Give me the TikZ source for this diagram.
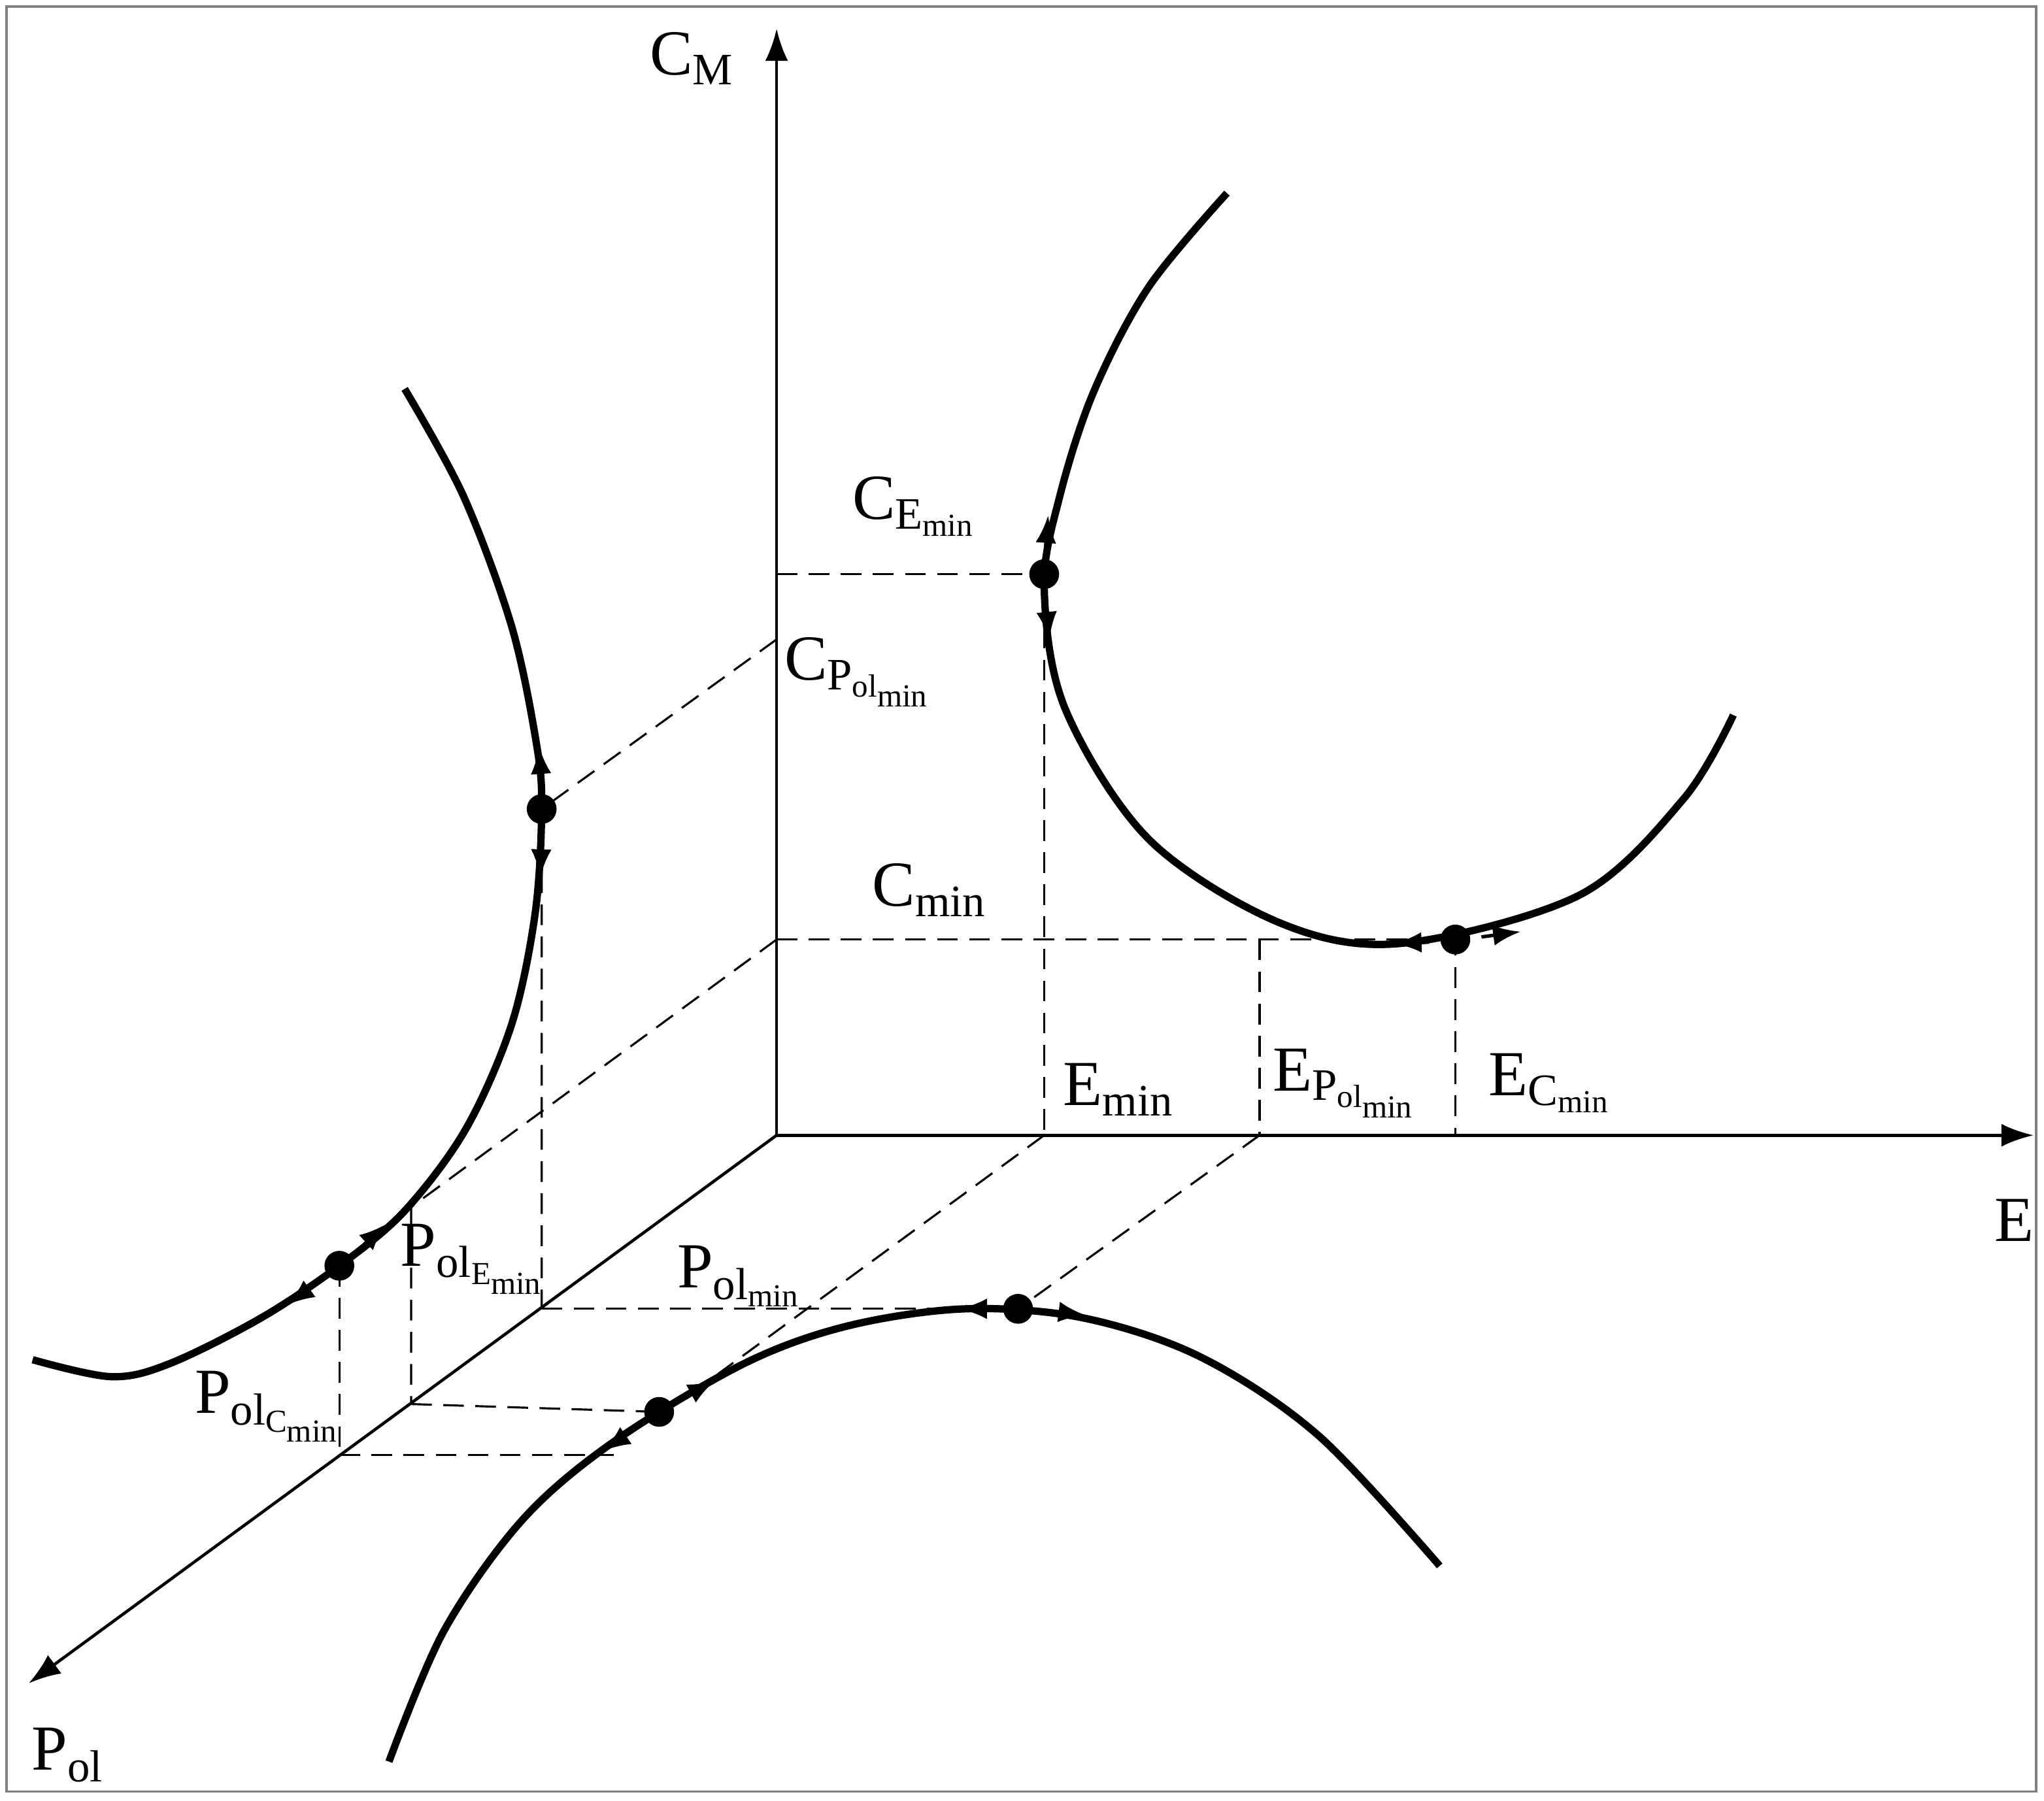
\documentclass[tikz,border=0pt]{standalone}
\usepackage{fontspec}
\setmainfont{Liberation Serif}
\setmathrm{Liberation Serif}
\usetikzlibrary{arrows.meta}
\begin{document}
\begin{tikzpicture}[x=0.02cm,y=-0.02cm,
  axis/.style={line width=1.3pt,-{Latex[length=14pt,width=10pt]}},
  curve/.style={line width=3.2pt},
  dsh/.style={line width=0.9pt,dash pattern=on 9pt off 5pt},
  mk/.style={line width=1.5pt,-{Latex[length=12pt,width=9pt]}},
  dot/.style={circle,fill,inner sep=0pt,minimum size=13pt},
  lab/.style={font=\fontsize{28}{34}\selectfont,inner sep=0pt}]
\useasboundingbox (0,0) rectangle (1566,1380);
\draw[gray,line width=1pt] (5,5) rectangle (1560,1373);
\coordinate (O) at (595,870);
\coordinate (CM) at (595,22);
\coordinate (E) at (1558,870);
\coordinate (P) at (22,1290);
\draw[axis] (O) -- (CM);
\draw[axis] (O) -- (E);
\draw[axis] (O) -- (P);
% curves
\draw[curve] plot[smooth,tension=0.55] coordinates {(940,148) (880,220) (838,300) (812,380) (800,450) (816,543) (880,643) (980,707) (1073,723) (1210,686) (1290,612) (1328,548)};
\draw[curve] plot[smooth,tension=0.55] coordinates {(310,298) (355,380) (392,480) (411,570) (415,620) (410,700) (392,785) (357,865) (310,928) (260,970) (200,1010) (130,1045) (85,1055) (25,1042)};
\draw[curve] plot[smooth,tension=0.55] coordinates {(298,1350) (340,1250) (400,1165) (470,1105) (570,1045) (650,1016) (740,1003) (830,1010) (920,1040) (1010,1100) (1103,1200)};
% dots
\node[dot] (d1) at (800,440) {};
\node[dot] (d2) at (1115,720) {};
\node[dot] (d3) at (415,620) {};
\node[dot] (d4) at (260,970) {};
\node[dot] (d5) at (780,1003) {};
\node[dot] (d6) at (505,1082) {};
% axis points
\coordinate (cE) at (595,440);
\coordinate (cP) at (595,490);
\coordinate (cC) at (595,720);
\coordinate (eE) at (800,870);
\coordinate (eP) at (965,870);
\coordinate (eC) at (1115,870);
\coordinate (pE) at (415,1003);
\coordinate (pP) at (315,1076);
\coordinate (pC) at (260,1115);
% dashed
\draw[dsh] (cE) -- (d1.center) -- (eE);
\draw[dsh] (cC) -- (d2.center) -- (eC);
\draw[dsh] (965,720) -- (eP);
\draw[dsh] (cP) -- (d3.center) -- (pE);
\draw[dsh] (cC) -- (315,925) -- (pP);
\draw[dsh] (d4.center) -- (pC);
\draw[dsh] (pE) -- (d5.center);
\draw[dsh] (pP) -- (d6.center);
\draw[dsh] (pC) -- (470,1115);
\draw[dsh] (eE) -- (550,1053);
\draw[dsh] (eP) -- (d5.center);
% arrow marks
\draw[mk] (801,420) -- (803,395);
\draw[mk] (801,460) -- (804,490);
\draw[mk] (1095,722) -- (1068,723);
\draw[mk] (1135,718) -- (1165,714);
\draw[mk] (415,600) -- (413,572);
\draw[mk] (415,640) -- (414,672);
\draw[mk] (272,960) -- (296,938);
\draw[mk] (245,982) -- (220,1000);
\draw[mk] (760,1003) -- (735,1003);
\draw[mk] (800,1004) -- (832,1008);
\draw[mk] (520,1073) -- (548,1058);
\draw[mk] (490,1093) -- (462,1112);
% labels
\node[lab] at (700,388) {$\mathrm{C_{E_{min}}}$};
\node[lab] at (530,45) {$\mathrm{C_M}$};
\node[lab] at (1543,935) {E};
\node[lab] at (52,1345) {$\mathrm{P_{ol}}$};
\node[lab] at (657,515) {$\mathrm{C_{P_{ol_{min}}}}$};
\node[lab] at (712,682) {$\mathrm{C_{min}}$};
\node[lab] at (857,835) {$\mathrm{E_{min}}$};
\node[lab] at (1030,830) {$\mathrm{E_{P_{ol_{min}}}}$};
\node[lab] at (1187,830) {$\mathrm{E_{C_{min}}}$};
\node[lab] at (362,965) {$\mathrm{P_{ol_{E_{min}}}}$};
\node[lab] at (566,978) {$\mathrm{P_{ol_{min}}}$};
\node[lab] at (205,1078) {$\mathrm{P_{ol_{C_{min}}}}$};
\end{tikzpicture}
\end{document}
